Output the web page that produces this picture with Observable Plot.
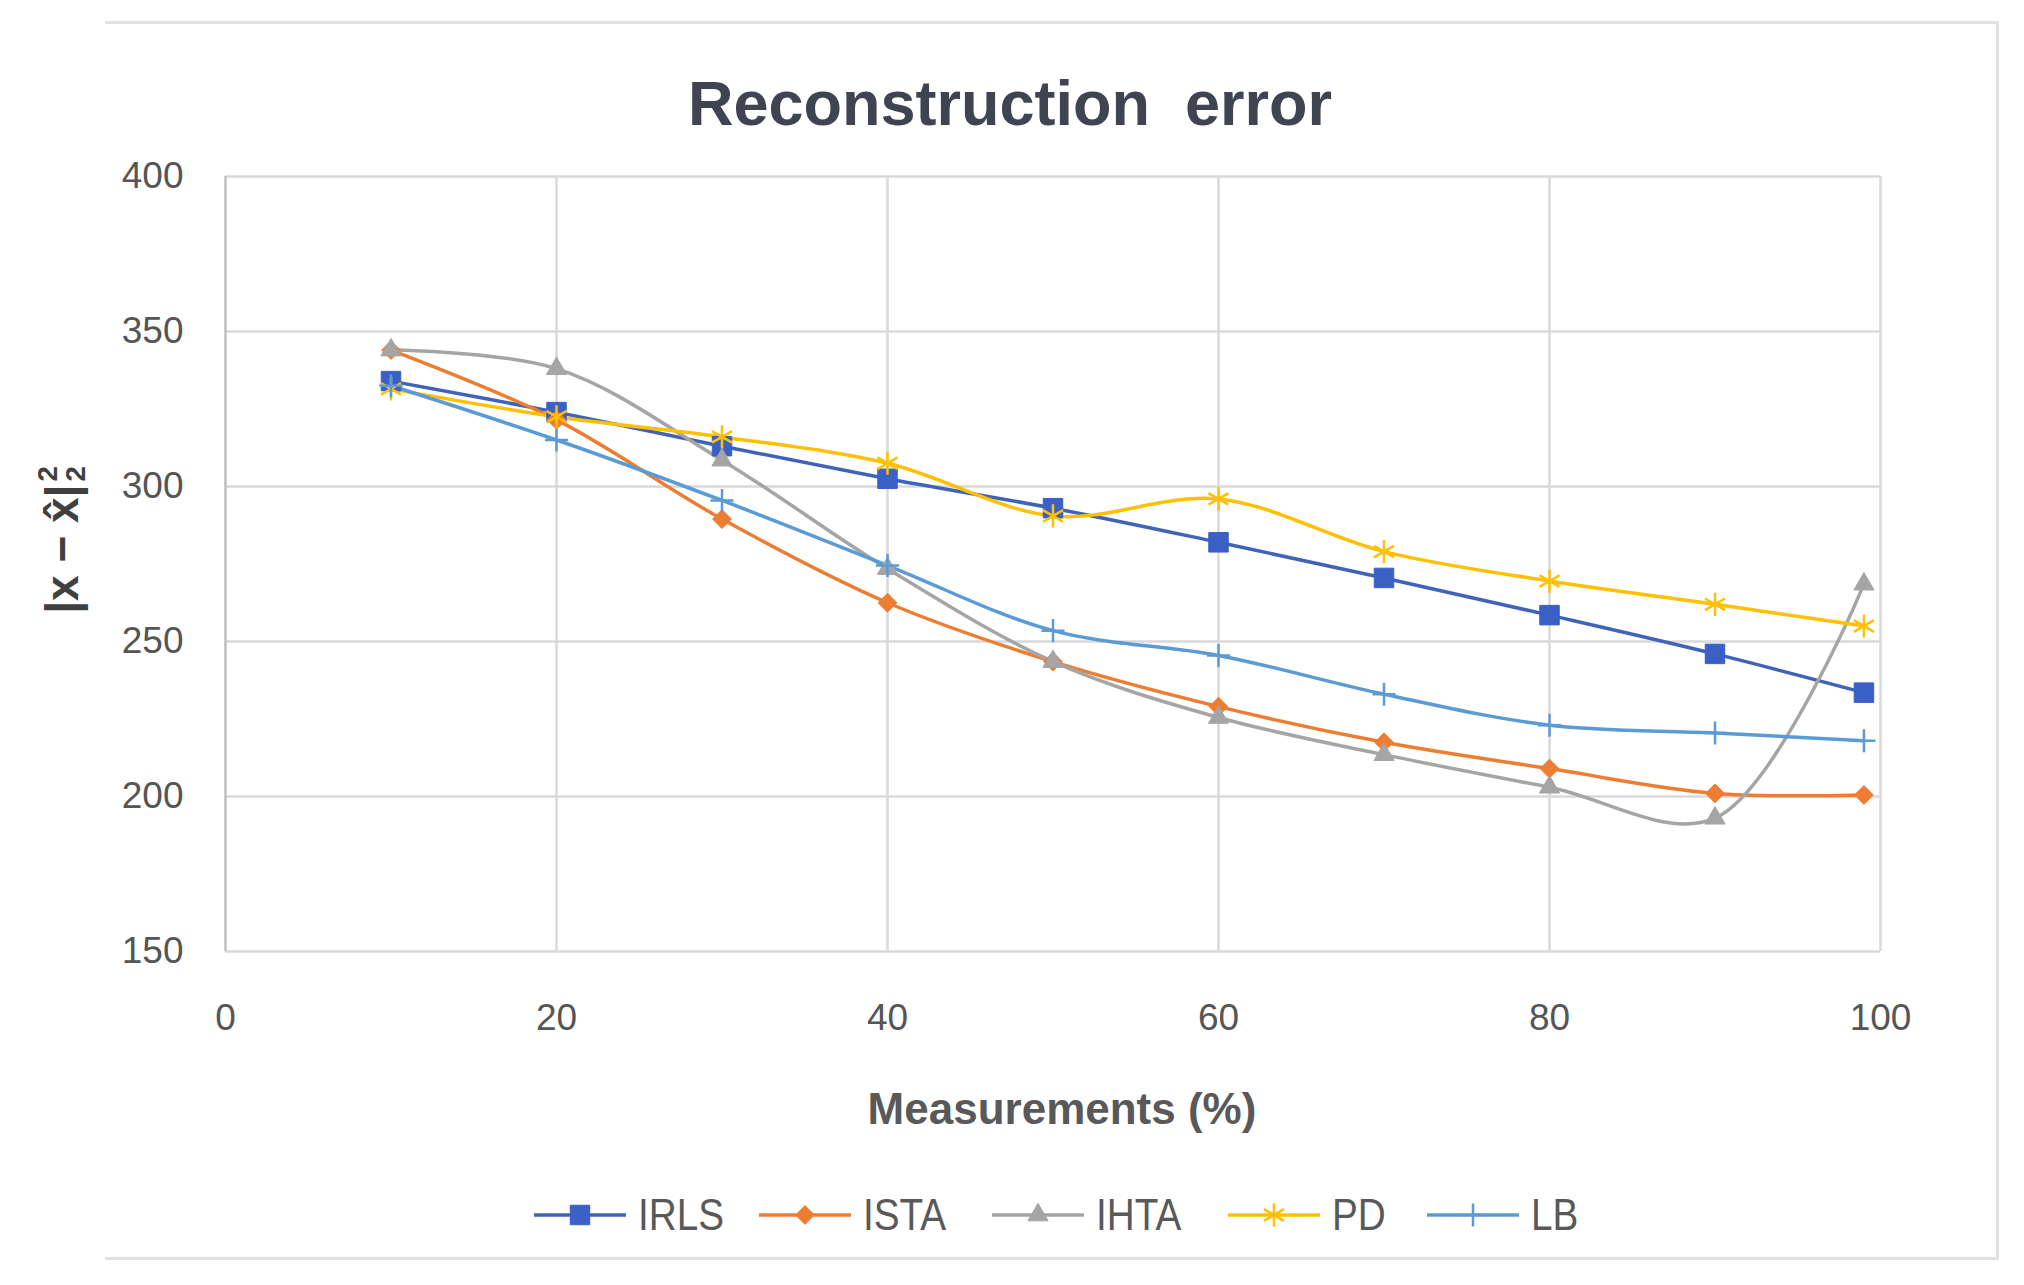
<!DOCTYPE html>
<html>
<head>
<meta charset="utf-8">
<script src="https://cdn.jsdelivr.net/npm/d3@7"></script>
<script src="https://cdn.jsdelivr.net/npm/@observablehq/plot@0.6"></script>
<style>
  html, body { margin: 0; padding: 0; background: #fff; }
  #wrap { position: relative; width: 2024px; height: 1285px; overflow: hidden;
          font-family: "Liberation Sans", Arial, sans-serif; }
  #frame { position: absolute; left: 105px; top: 21px; width: 1894px; height: 1239px;
           border-top: 3px solid #e2e2e2; border-right: 3px solid #e2e2e2; border-bottom: 3px solid #e2e2e2; box-sizing: border-box; }
  #chart { position: absolute; left: 0; top: 0; }
  #title { position: absolute; left: 0; width: 2020px; top: 72px; text-align: center;
           font-size: 63px; line-height: 1; font-weight: bold; color: #3f4450; white-space: pre; }
  #xlabel { position: absolute; left: 0; width: 2124px; top: 1087px; text-align: center;
            font-size: 44px; line-height: 1; font-weight: bold; color: #595959; }
  #ylabel { position: absolute; left: 62px; top: 540px; transform: translate(-50%, -50%) rotate(-90deg);
            font-size: 46px; line-height: 1; font-weight: bold; color: #404040; white-space: nowrap;
            display: flex; align-items: center; }
  #ylabel .ss { display: inline-flex; flex-direction: column; font-size: 0.6em; line-height: 1; margin-left: 3px; }
  #legend { position: absolute; left: 534px; top: 1192px;
            display: flex; align-items: center; gap: 41px; white-space: nowrap;
            font-family: "Liberation Sans", Arial, sans-serif;
            font-size: 45px; line-height: 1; color: #595959; }
  #legend .item { display: flex; align-items: center; gap: 12px; }
  #legend .lab { display: inline-block; }
  #legend .lab span { display: inline-block; transform: scaleX(0.86); transform-origin: 0 50%; }
  #legend svg { display: block; }
</style>
</head>
<body>
<div id="wrap">
  <div id="frame"></div>
  <div id="chart"></div>
  <div id="title">Reconstruction  error</div>
  <div id="ylabel"><span>|x − x̂|</span><span class="ss"><span>2</span><span>2</span></span></div>
  <div id="xlabel">Measurements (%)</div>
  <div id="legend"></div>
</div>
<script>
// ---- data ----
const measurements = [10, 20, 30, 40, 50, 60, 70, 80, 90, 99];
const seriesNames = ["IRLS", "ISTA", "IHTA", "PD", "LB"];
const irls = [334, 324, 313, 302.5, 293, 282, 270.5, 258.5, 246, 233.5];
const ista = [344, 321.5, 289.5, 262.5, 243.5, 229, 217.5, 209, 201, 200.5];
const ihta = [344, 338, 308.5, 273.5, 243.5, 225.5, 213.5, 203, 193, 268.5];
const pd   = [331.5, 322.5, 316, 307.5, 290.5, 296, 279, 269.5, 262, 255];
const lb   = [332.5, 315, 295.5, 274.5, 253.5, 245.5, 233, 223, 220.5, 218];
const xTicks = [0, 20, 40, 60, 80, 100];
const yTicks = [150, 200, 250, 300, 350, 400];

// ---- styles ----
const styles = {
  IRLS: {color: "#3f63b8", markFill: "#3a60c6", symbol: "square", r: 11, filled: true},
  ISTA: {color: "#ED7D31", markFill: "#ED7D31", symbol: "diamond2", r: 8.5, filled: true},
  IHTA: {color: "#A5A5A5", markFill: "#A5A5A5", symbol: "triangle", r: 7.5, filled: true},
  PD:   {color: "#FFC000", markFill: "none", symbol: "asterisk", r: 11, filled: false},
  LB:   {color: "#5B9BD5", markFill: "none", symbol: "plus", r: 7.5, filled: false}
};
const valuesBy = {IRLS: irls, ISTA: ista, IHTA: ihta, PD: pd, LB: lb};
const rows = seriesNames.flatMap(name => measurements.map((m, i) => ({name, x: m, y: valuesBy[name][i]})));

const marks = [
  Plot.ruleY(yTicks, {y: d => d, stroke: "#d9d9d9", strokeWidth: 2.5}),
  Plot.ruleX(xTicks, {x: d => d, stroke: d => d === 0 ? "#bfbfbf" : "#d9d9d9", strokeWidth: 2.5}),
  Plot.axisX({ticks: xTicks, tickSize: 0, tickPadding: 52, fontSize: 37, fill: "#555555", label: null}),
  Plot.axisY({ticks: yTicks, tickSize: 0, tickPadding: 42, fontSize: 37, fill: "#555555", label: null})
];
for (const name of seriesNames) {
  const s = styles[name];
  const data = rows.filter(d => d.name === name);
  marks.push(Plot.line(data, {x: "x", y: "y", stroke: s.color, strokeWidth: 3.5, curve: "catmull-rom"}));
}
for (const name of seriesNames) {
  const s = styles[name];
  const data = rows.filter(d => d.name === name);
  marks.push(Plot.dot(data, s.filled
    ? {x: "x", y: "y", symbol: s.symbol, r: s.r, fill: s.markFill, stroke: s.markFill, strokeWidth: 1}
    : {x: "x", y: "y", symbol: s.symbol, r: s.r, fill: "none", stroke: s.color, strokeWidth: 2.5}));
}

const chart = Plot.plot({
  width: 2024,
  height: 1285,
  marginLeft: 225,
  marginRight: 144,
  marginTop: 176,
  marginBottom: 334,
  x: {domain: [0, 100]},
  y: {domain: [150, 400]},
  style: {background: "transparent", fontFamily: "'Liberation Sans', Arial, sans-serif", color: "#555555"},
  marks
});
document.getElementById("chart").append(chart);

// ---- legend ----
const legendWidths = {IRLS: 80, ISTA: 88, IHTA: 91, PD: 54, LB: 47};
const legend = document.getElementById("legend");
const symMap = {square: d3.symbolSquare, diamond2: d3.symbolDiamond2, triangle: d3.symbolTriangle, asterisk: d3.symbolAsterisk, plus: d3.symbolPlus};
for (const name of seriesNames) {
  const s = styles[name];
  const item = document.createElement("div");
  item.className = "item";
  const svg = d3.create("svg").attr("width", 92).attr("height", 40);
  svg.append("line").attr("x1", 0).attr("x2", 92).attr("y1", 20).attr("y2", 20)
     .attr("stroke", s.color).attr("stroke-width", 3.5);
  const path = d3.symbol(symMap[s.symbol], Math.PI * s.r * s.r)();
  const p = svg.append("path").attr("d", path).attr("transform", "translate(46,20)");
  if (s.filled) p.attr("fill", s.markFill).attr("stroke", s.markFill);
  else p.attr("fill", "none").attr("stroke", s.color).attr("stroke-width", 2.5);
  item.append(svg.node());
  const label = document.createElement("span");
  label.className = "lab";
  label.style.width = legendWidths[name] + "px";
  const inner = document.createElement("span");
  inner.textContent = name;
  label.append(inner);
  item.append(label);
  legend.append(item);
}
</script>
</body>
</html>
